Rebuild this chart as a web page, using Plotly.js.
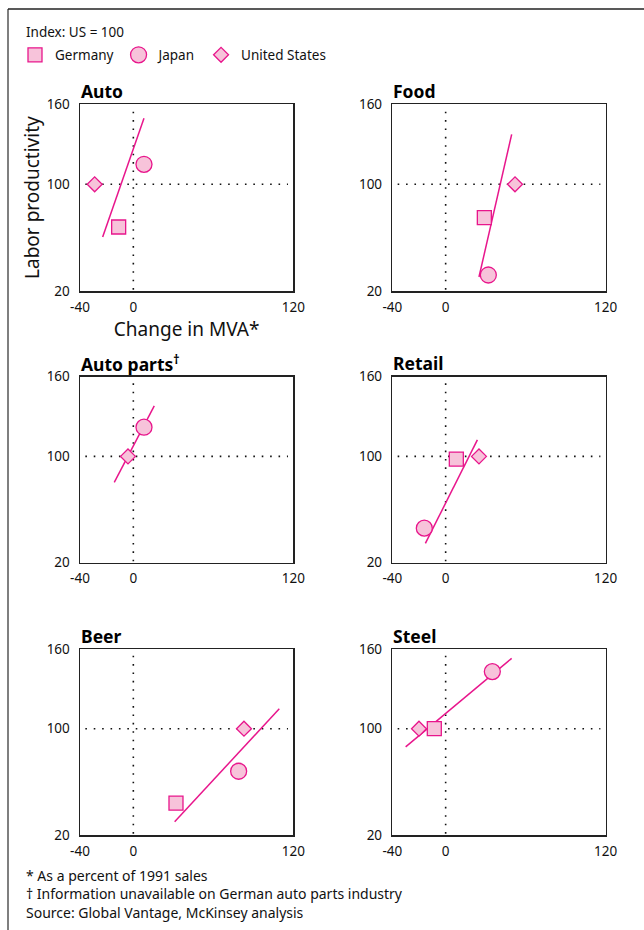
<!DOCTYPE html>
<html><head><meta charset="utf-8">
<script src="https://cdn.plot.ly/plotly-3.0.1.min.js"></script>
<style>html,body{margin:0;padding:0;background:#fff}#chart{width:644px;height:930px}</style>
</head><body><div id="chart"></div>
<script>
// ---- data ----
const panelNames = ["Auto", "Food", "Auto parts<sup>†</sup>", "Retail", "Beer", "Steel"];
const countries = ["Germany", "Japan", "United States"];
const germanyX = [-11, 29, null, 8, 32, -8.5];
const germanyY = [68, 75, null, 98, 44, 100];
const japanX = [8, 32, 8, -16, 79, 35];
const japanY = [115, 32, 122, 46, 68, 143];
const usX = [-29, 52, -4, 25, 83, -20];
const usY = [100, 100, 100, 100, 100, 100];
const trendX0 = [-23, 25, -14.3, -15.2, 31, -30];
const trendY0 = [60.4, 30.5, 80.5, 34.6, 30, 86.3];
const trendX1 = [8, 49.5, 15.7, 23.8, 109.5, 49.5];
const trendY1 = [149.5, 137.5, 138, 112.4, 115, 153];
const xTickVals = [-40, 0, 120];
const yTickVals = [20, 100, 160];
const xRange = [-40, 120];
const yRange = [20, 160];
const refX = 0;     // vertical reference (no change in MVA)
const refY = 100;   // US = 100
const noteLines = ["* As a percent of 1991 sales",
  "† Information unavailable on German auto parts industry",
  "Source: Global Vantage, McKinsey analysis"];

// ---- styling / geometry ----
const W = 644, H = 930;
const FONT = "'Noto Sans', 'Open Sans', sans-serif";
const PINK = "#E8168C", FILL = "#F7C3DA", INK = "#111";
const colL = [80, 293.3], colR = [392.3, 605.7];
const rows = [[104.3, 291], [376.7, 562.7], [649, 835]];
const px = v => v / W, py = v => 1 - v / H;

const traces = [];
const layout = {
  width: W, height: H, margin: {l: 0, r: 0, t: 0, b: 0},
  paper_bgcolor: "#fff", plot_bgcolor: "#fff",
  font: {family: FONT, size: 13, color: INK},
  showlegend: true,
  legend: {orientation: "h", x: px(15), y: py(55), xanchor: "left", yanchor: "middle",
    font: {family: FONT, size: 13.5, color: INK}, itemsizing: "trace", traceorder: "normal"},
  shapes: [], annotations: []
};

const series = [
  {name: countries[0], xs: germanyX, ys: germanyY, symbol: "square", size: 14},
  {name: countries[1], xs: japanX, ys: japanY, symbol: "circle", size: 16},
  {name: countries[2], xs: usX, ys: usY, symbol: "diamond", size: 11.5}
];

for (let i = 0; i < 6; i++) {
  const n = i + 1;
  const col = i % 2 === 0 ? colL : colR;
  const row = rows[Math.floor(i / 2)];
  const xa = "xaxis" + (n === 1 ? "" : n), ya = "yaxis" + (n === 1 ? "" : n);
  const xr = "x" + (n === 1 ? "" : n), yr = "y" + (n === 1 ? "" : n);
  layout[xa] = {domain: [px(col[0]), px(col[1])], anchor: yr, range: xRange,
    tickvals: xTickVals, ticktext: xTickVals.map(String), ticks: "", showgrid: false, zeroline: false,
    showline: true, mirror: true, linecolor: "#222", linewidth: 1.5,
    tickfont: {family: FONT, size: 13.5, color: INK}, fixedrange: true, ticklabelstandoff: 3};
  layout[ya] = {domain: [py(row[1]), py(row[0])], anchor: xr, range: yRange,
    tickvals: yTickVals, ticktext: yTickVals.map(String), ticks: "", showgrid: false, zeroline: false,
    showline: true, mirror: true, linecolor: "#222", linewidth: 1.5,
    tickfont: {family: FONT, size: 13.5, color: INK}, fixedrange: true, ticklabelstandoff: 6};
  if (n === 1) {
    layout[xa].title = {text: "Change in MVA*", font: {family: FONT, size: 19, color: INK}, standoff: 1};
    layout[ya].title = {text: "Labor productivity", font: {family: FONT, size: 19, color: INK}, standoff: 2};
  }
  // dotted reference lines
  layout.shapes.push({type: "line", xref: xr, yref: yr, x0: refX, x1: refX, y0: yRange[0] + 1, y1: yRange[1] - 1,
    line: {color: INK, width: 1.6, dash: "1.6px,6.8px"}, layer: "below"});
  layout.shapes.push({type: "line", xref: xr, yref: yr, x0: xRange[0] + 4, x1: xRange[1] - 4, y0: refY, y1: refY,
    line: {color: INK, width: 1.6, dash: "1.6px,6.8px"}, layer: "below"});
  // trend line
  traces.push({type: "scatter", mode: "lines", x: [trendX0[i], trendX1[i]], y: [trendY0[i], trendY1[i]],
    xaxis: xr, yaxis: yr, line: {color: PINK, width: 1.5}, showlegend: false, hoverinfo: "skip"});
  // points
  series.forEach(s => {
    traces.push({type: "scatter", mode: "markers", name: s.name, legendgroup: s.name,
      showlegend: n === 1,
      x: [s.xs[i]], y: [s.ys[i]], xaxis: xr, yaxis: yr,
      marker: {symbol: s.symbol, size: s.size, color: FILL, line: {color: PINK, width: 1.3}}});
  });
  // panel title
  layout.annotations.push({text: "<b>" + panelNames[i] + "</b>", xref: "paper", yref: "paper",
    x: px(col[0] - 1), y: py(row[0] - 13.5), xanchor: "left", yanchor: "middle", showarrow: false,
    font: {family: FONT, size: 17.5, color: "#000"}});
}

// header + notes
layout.annotations.push({text: "Index: US = 100", xref: "paper", yref: "paper", x: px(24), y: py(32),
  xanchor: "left", yanchor: "middle", showarrow: false, font: {family: FONT, size: 13.5, color: INK}});
const noteY = [875, 893, 912];
noteLines.forEach((t, k) => layout.annotations.push({text: t, xref: "paper", yref: "paper",
  x: px(24), y: py(noteY[k]), xanchor: "left", yanchor: "middle", showarrow: false,
  font: {family: FONT, size: 14, color: INK}}));

// outer frame
layout.shapes.push({type: "line", xref: "paper", yref: "paper", x0: px(8), x1: px(8), y0: 0, y1: py(9),
  line: {color: "#555", width: 1.5}});
layout.shapes.push({type: "line", xref: "paper", yref: "paper", x0: px(8), x1: 1, y0: py(9), y1: py(9),
  line: {color: "#222", width: 1.5}});

Plotly.newPlot("chart", traces, layout, {staticPlot: true, displayModeBar: false});
</script>
</body></html>
